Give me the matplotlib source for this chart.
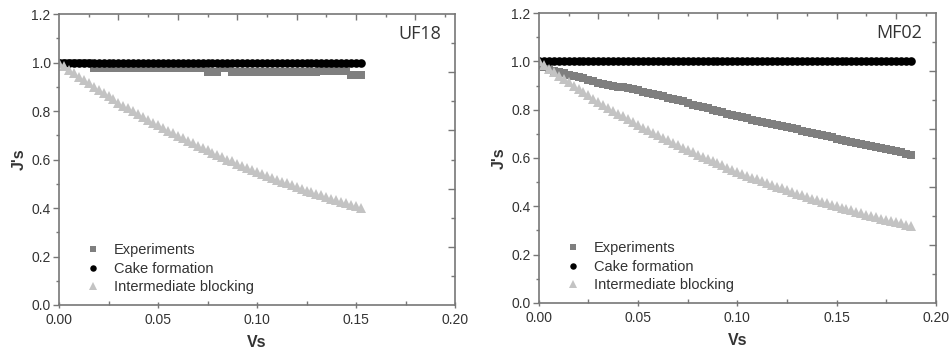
import matplotlib.pyplot as plt
from matplotlib.ticker import MultipleLocator, FixedLocator

# ---- data ----
vs_uf18 = [0.0, 0.0025, 0.005, 0.0075, 0.01, 0.0125, 0.015, 0.0175, 0.02, 0.0225,
           0.025, 0.0275, 0.03, 0.0325, 0.035, 0.0375, 0.04, 0.0425, 0.045, 0.0475,
           0.05, 0.0525, 0.055, 0.0575, 0.06, 0.0625, 0.065, 0.0675, 0.07, 0.0725,
           0.075, 0.0775, 0.08, 0.0825, 0.085, 0.0875, 0.09, 0.0925, 0.095, 0.0975,
           0.1, 0.1025, 0.105, 0.1075, 0.11, 0.1125, 0.115, 0.1175, 0.12, 0.1225,
           0.125, 0.1275, 0.13, 0.1325, 0.135, 0.1375, 0.14, 0.1425, 0.145, 0.1475,
           0.15, 0.1525]
exp_uf18 = [1.0, 1.0, 1.0, 1.0, 1.0, 1.0, 1.0, 0.977, 0.977, 0.977,
            0.977, 0.977, 0.977, 0.977, 0.977, 0.977, 0.977, 0.977, 0.977, 0.977,
            0.977, 0.977, 0.977, 0.977, 0.977, 0.977, 0.977, 0.977, 0.977, 0.977,
            0.962, 0.962, 0.962, 0.977, 0.977, 0.962, 0.962, 0.962, 0.962, 0.962,
            0.962, 0.962, 0.962, 0.962, 0.962, 0.962, 0.962, 0.962, 0.962, 0.962,
            0.962, 0.962, 0.962, 0.965, 0.965, 0.965, 0.965, 0.965, 0.965, 0.947,
            0.947, 0.947]
cake_uf18 = [1.0] * 62
block_uf18 = [1.000, 0.985, 0.970, 0.956, 0.942, 0.928, 0.914, 0.900, 0.887, 0.874,
              0.861, 0.848, 0.835, 0.823, 0.811, 0.799, 0.787, 0.775, 0.763, 0.752,
              0.741, 0.730, 0.719, 0.708, 0.698, 0.687, 0.677, 0.667, 0.657, 0.647,
              0.638, 0.628, 0.619, 0.610, 0.600, 0.592, 0.583, 0.574, 0.566, 0.557,
              0.549, 0.541, 0.533, 0.525, 0.517, 0.509, 0.502, 0.494, 0.487, 0.480,
              0.472, 0.465, 0.458, 0.452, 0.445, 0.438, 0.432, 0.425, 0.419, 0.413,
              0.407, 0.400]

vs_mf02 = [0.0, 0.0025, 0.005, 0.0075, 0.01, 0.0125, 0.015, 0.0175, 0.02, 0.0225,
           0.025, 0.0275, 0.03, 0.0325, 0.035, 0.0375, 0.04, 0.0425, 0.045, 0.0475,
           0.05, 0.0525, 0.055, 0.0575, 0.06, 0.0625, 0.065, 0.0675, 0.07, 0.0725,
           0.075, 0.0775, 0.08, 0.0825, 0.085, 0.0875, 0.09, 0.0925, 0.095, 0.0975,
           0.1, 0.1025, 0.105, 0.1075, 0.11, 0.1125, 0.115, 0.1175, 0.12, 0.1225,
           0.125, 0.1275, 0.13, 0.1325, 0.135, 0.1375, 0.14, 0.1425, 0.145, 0.1475,
           0.15, 0.1525, 0.155, 0.1575, 0.16, 0.1625, 0.165, 0.1675, 0.17, 0.1725,
           0.175, 0.1775, 0.18, 0.1825, 0.185, 0.1875]
exp_mf02 = [0.985, 0.978, 0.970, 0.962, 0.955, 0.950, 0.945, 0.940, 0.935, 0.930,
            0.924, 0.918, 0.912, 0.908, 0.903, 0.899, 0.895, 0.892, 0.888, 0.884,
            0.880, 0.875, 0.870, 0.865, 0.860, 0.855, 0.850, 0.845, 0.840, 0.834,
            0.828, 0.821, 0.815, 0.810, 0.805, 0.800, 0.795, 0.789, 0.783, 0.778,
            0.772, 0.768, 0.764, 0.759, 0.755, 0.750, 0.746, 0.741, 0.737, 0.732,
            0.727, 0.723, 0.718, 0.713, 0.709, 0.704, 0.700, 0.695, 0.690, 0.685,
            0.680, 0.676, 0.671, 0.667, 0.662, 0.658, 0.654, 0.649, 0.645, 0.641,
            0.637, 0.632, 0.628, 0.623, 0.617, 0.612]
cake_mf02 = [1.0] * 76
block_mf02 = [1.000, 0.985, 0.970, 0.955, 0.941, 0.927, 0.913, 0.899, 0.885, 0.872,
              0.859, 0.846, 0.833, 0.820, 0.808, 0.796, 0.783, 0.772, 0.760, 0.748,
              0.737, 0.726, 0.715, 0.704, 0.694, 0.683, 0.673, 0.663, 0.653, 0.643,
              0.633, 0.623, 0.614, 0.605, 0.595, 0.586, 0.578, 0.569, 0.560, 0.552,
              0.543, 0.535, 0.527, 0.519, 0.511, 0.503, 0.496, 0.488, 0.481, 0.474,
              0.467, 0.459, 0.452, 0.446, 0.439, 0.432, 0.426, 0.419, 0.413, 0.407,
              0.400, 0.394, 0.388, 0.383, 0.377, 0.371, 0.365, 0.360, 0.355, 0.349,
              0.344, 0.339, 0.334, 0.329, 0.324, 0.319]

labels = ["Experiments", "Cake formation", "Intermediate blocking"]
panels = ["UF18", "MF02"]

plt.rcParams['font.family'] = ['Liberation Sans', 'DejaVu Sans']

fig = plt.figure(figsize=(9.52, 3.53), dpi=100)
ax1 = fig.add_axes([0.062, 0.136, 0.416, 0.824])
ax2 = fig.add_axes([0.566, 0.142, 0.417, 0.821])

spine_c = '#777777'
text_c = '#333333'


def draw(ax, vs, expd, cake, block, name):
    ax.plot(vs, expd, 's', color='#7f7f7f', ms=6.0, mew=0, label=labels[0])
    ax.plot(vs, cake, 'o', color='black', ms=6.2, mew=0, label=labels[1])
    ax.plot(vs, block, '^', color='#c3c3c3', ms=7.6, mew=0, label=labels[2])
    ax.set_xlim(0, 0.2)
    ax.set_ylim(0, 1.2)
    ax.xaxis.set_major_locator(MultipleLocator(0.05))
    ax.xaxis.set_minor_locator(MultipleLocator(0.025))
    ax.yaxis.set_major_locator(MultipleLocator(0.2))
    ax.yaxis.set_minor_locator(MultipleLocator(0.1))
    ax.xaxis.set_major_formatter(plt.FormatStrFormatter('%.2f'))
    ax.yaxis.set_major_formatter(plt.FormatStrFormatter('%.1f'))
    for s in ax.spines.values():
        s.set_color(spine_c)
        s.set_linewidth(1.2)
    ax.tick_params(axis='y', which='major', direction='out', length=4, width=1,
                   color=spine_c, labelsize=10, labelcolor=text_c, pad=2)
    ax.tick_params(axis='y', which='minor', direction='out', length=2, width=1,
                   color=spine_c)
    ax.tick_params(axis='x', which='major', direction='inout', length=5, width=1,
                   color=spine_c, labelsize=10, labelcolor=text_c, pad=3)
    ax.tick_params(axis='x', which='minor', direction='in', length=3, width=1,
                   color=spine_c)
    ax.set_xlabel("Vs", fontsize=11.5, fontweight='bold', color=text_c, labelpad=6)
    ax.set_ylabel("J's", fontsize=11.5, fontweight='bold', color=text_c, labelpad=3)

    # mirrored axes with their own tick spacing
    twy = ax.twinx()
    twy.set_ylim(0, 1.2)
    twy.yaxis.set_major_locator(FixedLocator([0.24, 0.48, 0.72, 0.96]))
    twy.yaxis.set_minor_locator(FixedLocator([0.12, 0.36, 0.60, 0.84, 1.08]))
    twy.tick_params(axis='y', which='major', direction='in', length=5, width=1,
                    color=spine_c, labelright=False)
    twy.tick_params(axis='y', which='minor', direction='in', length=3, width=1,
                    color=spine_c)
    twx = ax.twiny()
    twx.set_xlim(0, 0.2)
    twx.xaxis.set_major_locator(FixedLocator([0.03, 0.06, 0.09, 0.12, 0.15, 0.18]))
    twx.xaxis.set_minor_locator(FixedLocator([0.015, 0.045, 0.075, 0.105, 0.135, 0.165, 0.195]))
    twx.tick_params(axis='x', which='major', direction='in', length=4, width=1,
                    color=spine_c, labeltop=False)
    twx.tick_params(axis='x', which='minor', direction='in', length=2, width=1,
                    color=spine_c)
    for t in (twy, twx):
        for s in t.spines.values():
            s.set_visible(False)

    ax.legend(loc='lower left', bbox_to_anchor=(0.035, -0.008), frameon=False,
              fontsize=10.5, handlelength=1.0, handletextpad=0.9,
              labelspacing=0.3, markerscale=0.75, labelcolor=text_c)
    ax.text(0.965, 0.93, name, transform=ax.transAxes, ha='right', va='center',
            fontsize=13, color='#333333', family=['Open Sans', 'DejaVu Sans'])


draw(ax1, vs_uf18, exp_uf18, cake_uf18, block_uf18, panels[0])
draw(ax2, vs_mf02, exp_mf02, cake_mf02, block_mf02, panels[1])

fig.savefig("out.png", dpi=100)
